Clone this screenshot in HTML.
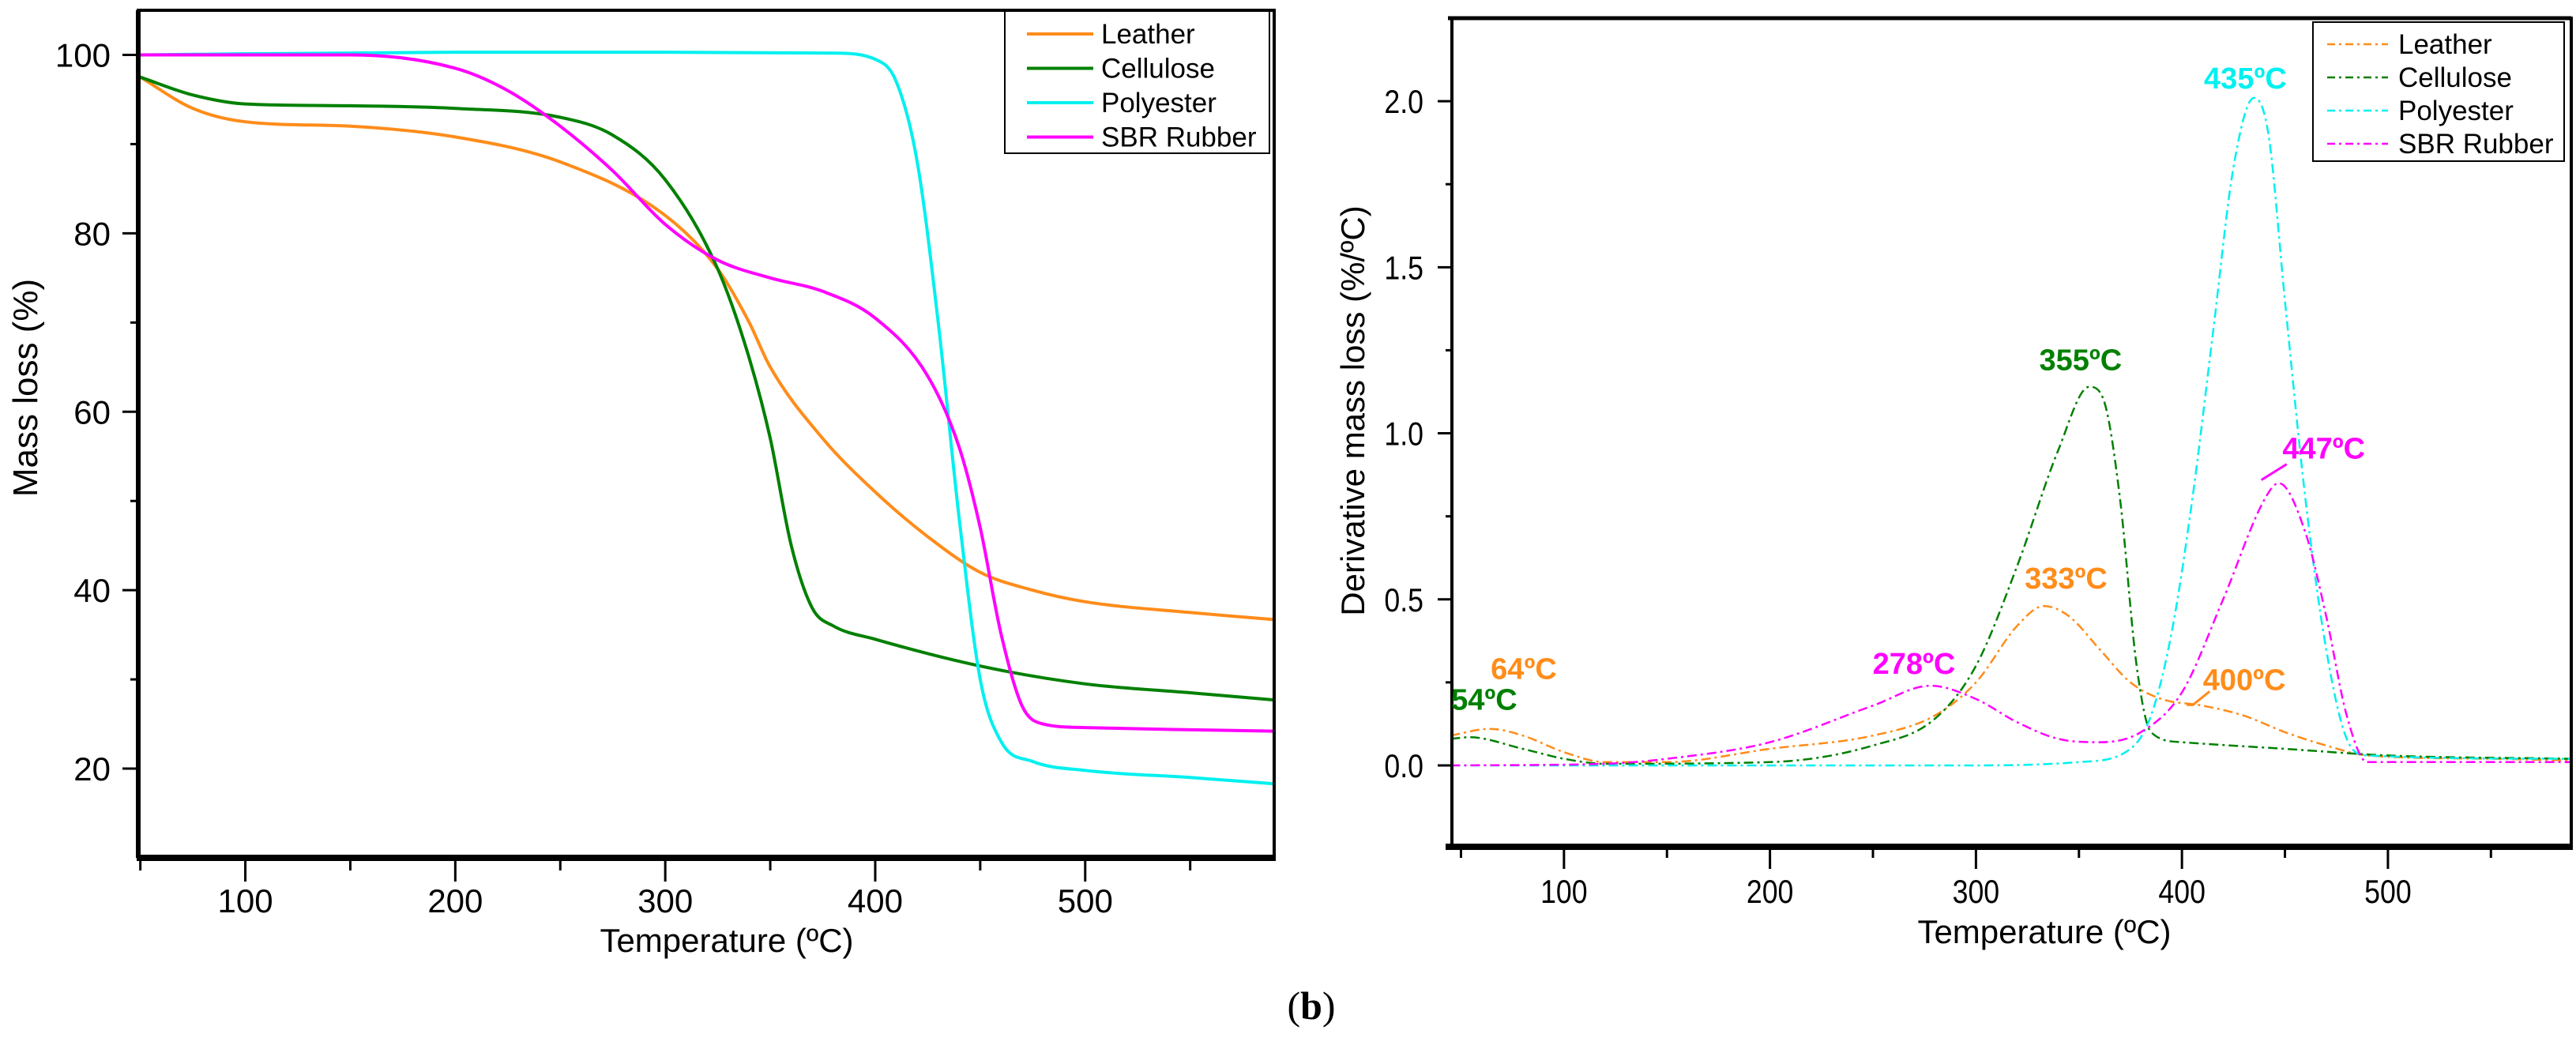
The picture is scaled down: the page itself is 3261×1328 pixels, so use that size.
<!DOCTYPE html>
<html><head><meta charset="utf-8"><style>
body{margin:0;background:#fff;}
svg{display:block;font-family:"Liberation Sans",sans-serif;}
</style></head><body>
<svg id="fig" width="3261" height="1328" viewBox="0 0 3261 1328" xmlns="http://www.w3.org/2000/svg">
<g id="left"></g>
<g id="right"></g>
<text x="1660" y="1290" font-family="Liberation Serif,serif" font-size="50" text-anchor="middle">(<tspan font-weight="bold">b</tspan>)</text>
</svg>
<script>
// ---- data: TGA (left) ----
const seriesNames = ["Leather","Cellulose","Polyester","SBR Rubber"];
const seriesColors = ["#ff8c1a","#008000","#00f0f0","#ff00ff"];
const tgaLeatherX = [50,75,100,150,200,250,300,325,340,350,375,400,425,450,475,500,550,590];
const tgaLeatherY = [97.5,94,92.5,92,90.8,88,82,76,70,65,57,51,46,42,40,38.7,37.5,36.7];
const tgaCelluloseX = [50,75,100,150,200,250,275,300,325,340,350,360,370,380,400,450,500,550,590];
const tgaCelluloseY = [97.5,95.5,94.5,94.3,94,93,91,86,76,66,57,45,38,36,34.5,31.5,29.5,28.5,27.7];
const tgaPolyesterX = [50,200,300,380,400,410,420,430,440,450,460,475,500,550,590];
const tgaPolyesterY = [100,100.3,100.3,100.2,99.5,97,88,70,48,30,23,20.8,19.8,19,18.3];
const tgaSbrX = [50,150,200,225,250,275,300,325,350,375,400,425,440,450,460,470,480,500,590];
const tgaSbrY = [100,100,98.5,96,92,87,81,77,75,73.5,70.5,64,56,47,35,27,25,24.6,24.2];
const tgaXTicks = [100,200,300,400,500];
const tgaYTicks = [20,40,60,80,100];
// ---- data: DTG (right) ----
const dtgLeatherX = [45,64,80,100,120,150,200,250,280,300,320,333,345,360,375,390,410,430,450,470,490,550,589];
const dtgLeatherY = [0.09,0.11,0.09,0.04,0.01,0.01,0.05,0.09,0.15,0.25,0.42,0.48,0.45,0.35,0.25,0.2,0.18,0.15,0.1,0.06,0.03,0.02,0.015];
const dtgCelluloseX = [45,54,80,100,120,200,250,280,300,320,340,355,362,370,378,385,400,450,500,589];
const dtgCelluloseY = [0.08,0.085,0.05,0.02,0.005,0.01,0.06,0.14,0.3,0.6,0.95,1.14,1.1,0.8,0.3,0.1,0.07,0.05,0.03,0.02];
const dtgPolyesterX = [45,300,350,375,385,395,405,415,425,435,442,450,460,470,480,490,589];
const dtgPolyesterY = [0,0,0.01,0.05,0.15,0.4,0.8,1.3,1.8,2.01,1.9,1.4,0.8,0.35,0.08,0.03,0.02];
const dtgSbrX = [45,120,150,200,250,278,300,320,340,360,380,400,420,440,447,460,470,480,490,589];
const dtgSbrY = [0,0.005,0.02,0.07,0.18,0.24,0.2,0.13,0.08,0.07,0.1,0.22,0.5,0.8,0.85,0.7,0.45,0.15,0.01,0.01];
const dtgXTicks = [100,200,300,400,500];
const dtgYTicks = ["0.0","0.5","1.0","1.5","2.0"];
const peakLabels = ["54ºC","64ºC","278ºC","333ºC","355ºC","400ºC","435ºC","447ºC"];
const peakTemps = [54,64,278,333,355,400,435,447];
const peakVals = [0.085,0.11,0.24,0.48,1.14,0.18,2.01,0.85];
const peakSeries = [1,0,3,0,1,0,2,3];

const NS="http://www.w3.org/2000/svg";
function el(parent,tag,attrs){const e=document.createElementNS(NS,tag);for(const k in attrs)e.setAttribute(k,attrs[k]);parent.appendChild(e);return e;}
// monotone cubic (Fritsch-Carlson) path
function pathFrom(xs,ys,sx,sy){
  const n=xs.length, d=[], m=new Array(n);
  for(let i=0;i<n-1;i++) d.push((ys[i+1]-ys[i])/(xs[i+1]-xs[i]));
  m[0]=d[0]; m[n-1]=d[n-2];
  for(let i=1;i<n-1;i++){ m[i]=(d[i-1]*d[i]<=0)?0:(d[i-1]+d[i])/2; }
  for(let i=0;i<n-1;i++){
    if(d[i]===0){m[i]=0;m[i+1]=0;continue;}
    const a=m[i]/d[i], b=m[i+1]/d[i], s=a*a+b*b;
    if(s>9){const t=3/Math.sqrt(s);m[i]=t*a*d[i];m[i+1]=t*b*d[i];}
  }
  let p="M"+sx(xs[0]).toFixed(1)+","+sy(ys[0]).toFixed(1);
  for(let i=0;i<n-1;i++){
    const h=xs[i+1]-xs[i];
    p+=" C"+sx(xs[i]+h/3).toFixed(1)+","+sy(ys[i]+m[i]*h/3).toFixed(1)+" "+
      sx(xs[i+1]-h/3).toFixed(1)+","+sy(ys[i+1]-m[i+1]*h/3).toFixed(1)+" "+
      sx(xs[i+1]).toFixed(1)+","+sy(ys[i+1]).toFixed(1);
  }
  return p;
}

// ---- LEFT ----
(function(){
  const g=document.getElementById('left');
  const L=175,R=1613,T=13,B=1086, x0=49,x1=590,y0=10,y1=105;
  const sx=x=>L+(x-x0)/(x1-x0)*(R-L), sy=y=>B-(y-y0)/(y1-y0)*(B-T);
  const xs=[tgaLeatherX,tgaCelluloseX,tgaPolyesterX,tgaSbrX], ys=[tgaLeatherY,tgaCelluloseY,tgaPolyesterY,tgaSbrY];
  for(let i=0;i<4;i++){
    const p=el(g,'path',{d:pathFrom(xs[i],ys[i],sx,sy),fill:'none',stroke:seriesColors[i],'stroke-width':4});
    
    
  }
  const fr=el(g,'rect',{x:L,y:T,width:R-L,height:B-T,fill:'none',stroke:'#000','stroke-width':4});
  
  el(g,'line',{x1:L-2,y1:B,x2:R+2,y2:B,stroke:'#000','stroke-width':8});
  el(g,'line',{x1:L,y1:T,x2:L,y2:B,stroke:'#000','stroke-width':6});
  for(let v=50;v<=550;v+=50){const X=sx(v);const maj=v%100===0;el(g,'line',{x1:X,y1:B,x2:X,y2:B+(maj?30:16),stroke:'#000','stroke-width':3});}
  tgaXTicks.forEach(v=>{const t=el(g,'text',{x:sx(v),y:1155,'font-size':42,'text-anchor':'middle'});t.textContent=v;
    });
  for(let v=20;v<=100;v+=10){const Y=sy(v);const maj=v%20===0;el(g,'line',{x1:L,y1:Y,x2:L-(maj?20:10),y2:Y,stroke:'#000','stroke-width':3});}
  tgaYTicks.forEach(v=>{const t=el(g,'text',{x:140,y:sy(v)+15,'font-size':42,'text-anchor':'end'});t.textContent=v;
    });
  const xt=el(g,'text',{x:920,y:1205,'font-size':42,'text-anchor':'middle'});xt.textContent='Temperature (ºC)';
  
  const yt=el(g,'text',{x:0,y:0,'font-size':44,'text-anchor':'middle',transform:'translate(47,491) rotate(-90)'});yt.textContent='Mass loss (%)';
  
  const lg=el(g,'g',{});
  el(lg,'rect',{x:1272,y:14,width:335,height:180,fill:'#fff',stroke:'#000','stroke-width':2});
  seriesNames.forEach((n,i)=>{const Y=43+i*43.5;
    el(lg,'line',{x1:1300,y1:Y,x2:1384,y2:Y,stroke:seriesColors[i],'stroke-width':4});
    const t=el(lg,'text',{x:1394,y:Y+12,'font-size':35});t.textContent=n;
    });
})();

// ---- RIGHT ----
(function(){
  const g=document.getElementById('right');
  const L=1838,R=3255,T=23,B=1072, x0=45.6,x1=589,y0=-0.245,y1=2.25;
  const sx=x=>L+(x-x0)/(x1-x0)*(R-L), sy=y=>B-(y-y0)/(y1-y0)*(B-T);
  const xs=[dtgLeatherX,dtgCelluloseX,dtgPolyesterX,dtgSbrX], ys=[dtgLeatherY,dtgCelluloseY,dtgPolyesterY,dtgSbrY];
  for(let i=0;i<4;i++){
    const p=el(g,'path',{d:pathFrom(xs[i],ys[i],sx,sy),fill:'none',stroke:seriesColors[i],'stroke-width':2.5,'stroke-dasharray':'12 5 3 5'});
    
    
  }
  const fr=el(g,'rect',{x:L,y:T,width:R-L,height:B-T,fill:'none',stroke:'#000','stroke-width':4});
  
  el(g,'line',{x1:L-8,y1:B,x2:R+2,y2:B,stroke:'#000','stroke-width':8});
  el(g,'line',{x1:L-5,y1:T,x2:R,y2:T,stroke:'#000','stroke-width':5});
  for(let v=50;v<=550;v+=50){const X=sx(v);const maj=v%100===0;el(g,'line',{x1:X,y1:B,x2:X,y2:B+(maj?28:14),stroke:'#000','stroke-width':3});}
  dtgXTicks.forEach(v=>{const t=el(g,'text',{x:0,y:0,'font-size':42,'text-anchor':'middle',transform:'translate('+sx(v)+',1143) scale(0.85,1)'});t.textContent=v;
    });
  for(let v=0;v<=2.0001;v+=0.25){const Y=sy(v);const maj=Math.abs(v*2-Math.round(v*2))<1e-6;el(g,'line',{x1:L,y1:Y,x2:L-(maj?18:8),y2:Y,stroke:'#000','stroke-width':3});}
  dtgYTicks.forEach(s=>{const t=el(g,'text',{x:0,y:0,'font-size':42,'text-anchor':'end',transform:'translate(1802,'+(sy(parseFloat(s))+15)+') scale(0.85,1)'});t.textContent=s;
    });
  const xt=el(g,'text',{x:2588,y:1194,'font-size':42,'text-anchor':'middle'});xt.textContent='Temperature (ºC)';
  
  const yt=el(g,'text',{x:0,y:0,'font-size':42,'text-anchor':'middle',transform:'translate(1727,520) rotate(-90)'});yt.textContent='Derivative mass loss (%/ºC)';
  
  // peak annotations (offsets are label placement only)
  const offs=[[19,-35],[43,-63],[-21,-15],[28,-22],[-11,-21],[79,-20],[-11,-12],[57,-31]];
  peakLabels.forEach((s,i)=>{
    const X=sx(peakTemps[i])+offs[i][0], Y=sy(peakVals[i])+offs[i][1];
    const t=el(g,'text',{x:X,y:Y,'font-size':38,'font-weight':'bold','text-anchor':'middle',fill:seriesColors[peakSeries[i]]});
    t.textContent=s;
    
  });
  el(g,'line',{x1:sx(447)-22,y1:sy(0.85)-4,x2:sx(447)+10,y2:sy(0.85)-24,stroke:'#ff00ff','stroke-width':3});
  el(g,'polyline',{points:(sx(400)+6)+','+(sy(0.18)-1)+' '+(sx(400)+14)+','+(sy(0.18)-1)+' '+(sx(400)+35)+','+(sy(0.18)-18),fill:'none',stroke:'#ff8c1a','stroke-width':3});
  const lg=el(g,'g',{});
  el(lg,'rect',{x:2928,y:28,width:318,height:176,fill:'#fff',stroke:'#000','stroke-width':2});
  seriesNames.forEach((n,i)=>{const Y=56+i*42;
    el(lg,'line',{x1:2946,y1:Y,x2:3023,y2:Y,stroke:seriesColors[i],'stroke-width':2.5,'stroke-dasharray':'10 5 3 5'});
    const t=el(lg,'text',{x:3036,y:Y+12,'font-size':35});t.textContent=n;
    });
})();
</script>
</body></html>
